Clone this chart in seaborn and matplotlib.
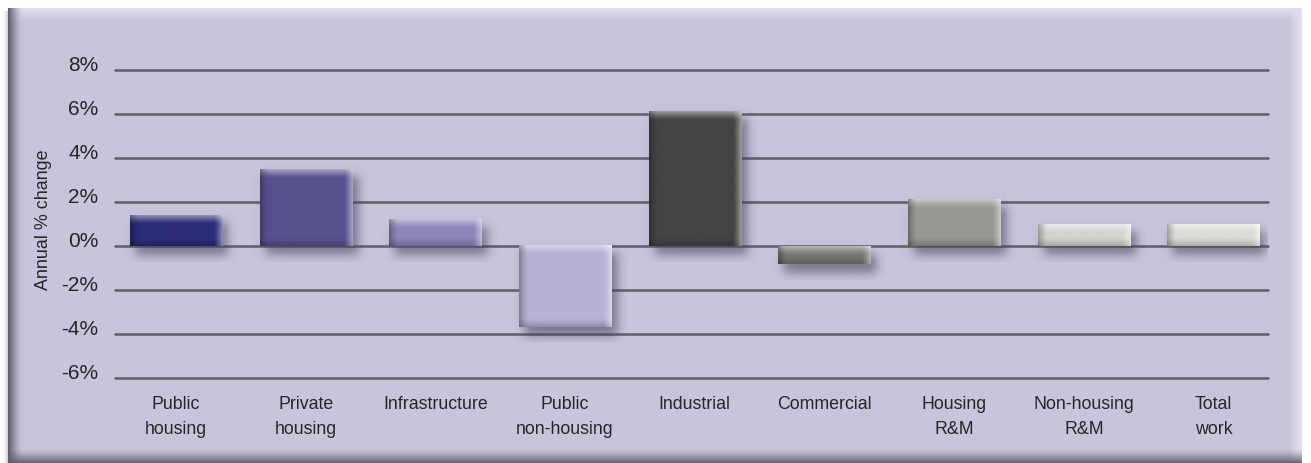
import numpy as np
import pandas as pd
import matplotlib
matplotlib.use("Agg")
import matplotlib.pyplot as plt
import seaborn as sns
from matplotlib.colors import to_rgb

# ---- data ----
categories = ["Public\nhousing", "Private\nhousing", "Infrastructure",
              "Public\nnon-housing", "Industrial", "Commercial",
              "Housing\nR&M", "Non-housing\nR&M", "Total\nwork"]
changes = [1.4, 3.5, 1.2, -3.7, 6.1, -0.8, 2.1, 1.0, 1.0]
bar_colors = ["#2c2b78", "#57528f", "#8c86bb", "#b9b2d5", "#444444",
              "#767672", "#979793", "#d5d5cd", "#ddddd7"]
y_ticks = [-6, -4, -2, 0, 2, 4, 6, 8]
y_tick_labels = [f"{t}%" for t in y_ticks]
y_label = "Annual % change"

W, H = 1311, 464
FONT = "Liberation Sans"
TEXT = "#262626"

sns.set_theme(style="white")
plt.rcParams["font.family"] = [FONT, "DejaVu Sans"]

fig = plt.figure(figsize=(W / 100, H / 100), dpi=100)
fig.patch.set_facecolor("white")

# ---- framed lavender panel as a background image ----
yy, xx = np.mgrid[0:H, 0:W].astype(float)
img = np.ones((H, W, 3))
lav = np.array([200, 196, 220]) / 255.0
inside = (xx >= 8) & (xx <= 1301) & (yy >= 9)
img[inside] = lav


def ramp(v, p=1.0):
    return np.clip(v, 0, 1) ** p


def blend(mask, weight, color):
    c = np.array(color) / 255.0
    w = np.clip(weight, 0, 1)[..., None]
    img[mask] = (img * (1 - w) + c * w)[mask]


blend(inside, ramp(1 - (yy - 9) / 13.0), (224, 221, 236))          # top light rim
blend(inside, ramp((xx - 1288) / 13.0), (228, 225, 238))           # right light rim
blend(inside, ramp(1 - (xx - 8) / 14.0, 1.4), (96, 93, 112))       # left dark rim
blend(inside, ramp((yy - 449) / 15.0, 1.4), (92, 90, 106))         # bottom dark rim
outside_left = (xx < 8) & (yy >= 12)
blend(outside_left, ramp((xx - 1) / 7.0, 2) * 0.45, (120, 118, 130))

bg = fig.add_axes([0, 0, 1, 1])
bg.imshow(img, aspect="auto", extent=(0, W, H, 0), interpolation="bilinear")
bg.set_axis_off()

# ---- chart axes ----
ax_l, ax_r, ax_t, ax_b = 115, 1268, 71, 379
ax = fig.add_axes([ax_l / W, (H - ax_b) / H, (ax_r - ax_l) / W, (ax_b - ax_t) / H])
ax.patch.set_alpha(0)

df = pd.DataFrame({"category": categories, "change": changes})
sns.barplot(data=df, x="category", y="change", hue="category",
            palette=bar_colors, width=0.71, saturation=1, legend=False,
            edgecolor="none", linewidth=0, ax=ax, zorder=3)

XLIM = (-0.47, 8.42)
YLIM = (-6.0, 8.0)
ax.set_xlim(*XLIM)
ax.set_ylim(*YLIM)

for t in y_ticks:
    ax.axhline(t, color="#65636f", lw=1.9, zorder=1, clip_on=False)

sx = (ax_r - ax_l) / (XLIM[1] - XLIM[0])   # pixels per x unit
sy = (ax_b - ax_t) / (YLIM[1] - YLIM[0])   # pixels per y unit


def soft_box(v, a, b, s):
    return 1 / (1 + np.exp(-(v - a) / s)) - 1 / (1 + np.exp(-(v - b) / s))


for patch, col in zip(ax.patches, bar_colors):
    x0, x1 = sorted([patch.get_x(), patch.get_x() + patch.get_width()])
    y0, y1 = sorted([patch.get_y(), patch.get_y() + patch.get_height()])
    wpx, hpx = (x1 - x0) * sx, (y1 - y0) * sy

    # soft drop shadow, down and to the right
    m = 16
    nx, ny = int(wpx + 2 * m), int(hpx + 2 * m)
    px = np.arange(nx) - m
    py = np.arange(ny) - m          # 0 at top of bar, growing downward
    fx = soft_box(px, 5, wpx + 5, 3.0)
    fy = soft_box(py, 7, hpx + 8, 3.0)
    alpha = 0.6 * fy[:, None] * fx[None, :]
    sh = np.zeros((ny, nx, 4))
    sh[..., :3] = np.array([70, 64, 92]) / 255.0
    sh[..., 3] = alpha
    ax.imshow(sh, extent=(x0 - m / sx, x1 + m / sx, y0 - m / sy, y1 + m / sy),
              origin="upper", aspect="auto", zorder=2, interpolation="bilinear")

    # bevelled face
    nx, ny = max(int(round(wpx)), 2), max(int(round(hpx)), 2)
    gx = np.arange(nx) + 0.5
    gy = np.arange(ny) + 0.5
    band = 9.0
    t_left = ramp(1 - gx / band, 1.3)[None, :]
    t_right = ramp(1 - (nx - gx) / band, 1.3)[None, :]
    t_top = ramp(1 - gy / band, 1.3)[:, None]
    t_bot = ramp(1 - (ny - gy) / band, 1.3)[:, None]
    base = np.array(to_rgb(col))
    face = np.ones((ny, nx, 3)) * base
    white = np.ones(3)
    face = face + (white - face) * (0.5 * np.broadcast_to(t_top, (ny, nx)))[..., None]
    face = face * (1 - 0.3 * np.broadcast_to(t_left, (ny, nx)))[..., None]
    face = face * (1 - 0.22 * np.broadcast_to(t_bot, (ny, nx)))[..., None]
    face = face + (white - face) * (0.5 * np.broadcast_to(t_right, (ny, nx)))[..., None]
    ax.imshow(np.clip(face, 0, 1), extent=(x0, x1, y0, y1), origin="upper",
              aspect="auto", zorder=4, interpolation="bilinear")

ax.set_xlim(*XLIM)
ax.set_ylim(*YLIM)

ax.set_xticks(range(len(categories)))
ax.set_xticklabels(categories, fontsize=12.8, color=TEXT, linespacing=1.55,
                   family=[FONT, "DejaVu Sans"])
ax.set_yticks(y_ticks)
ax.set_yticklabels(y_tick_labels, fontsize=15, color=TEXT,
                   family=[FONT, "DejaVu Sans"])
for lab in ax.get_yticklabels():
    lab.set_verticalalignment("baseline")
ax.tick_params(axis="x", length=0, pad=12.5)
ax.tick_params(axis="y", length=0, pad=12)
ax.set_xlabel("")
ax.set_ylabel("")
for s in ax.spines.values():
    s.set_visible(False)

fig.text(43 / W, 1 - 220 / H, y_label, rotation=90, ha="center", va="center",
         fontsize=12.9, color=TEXT, family=[FONT, "DejaVu Sans"])

fig.savefig("out.png", dpi=100)
